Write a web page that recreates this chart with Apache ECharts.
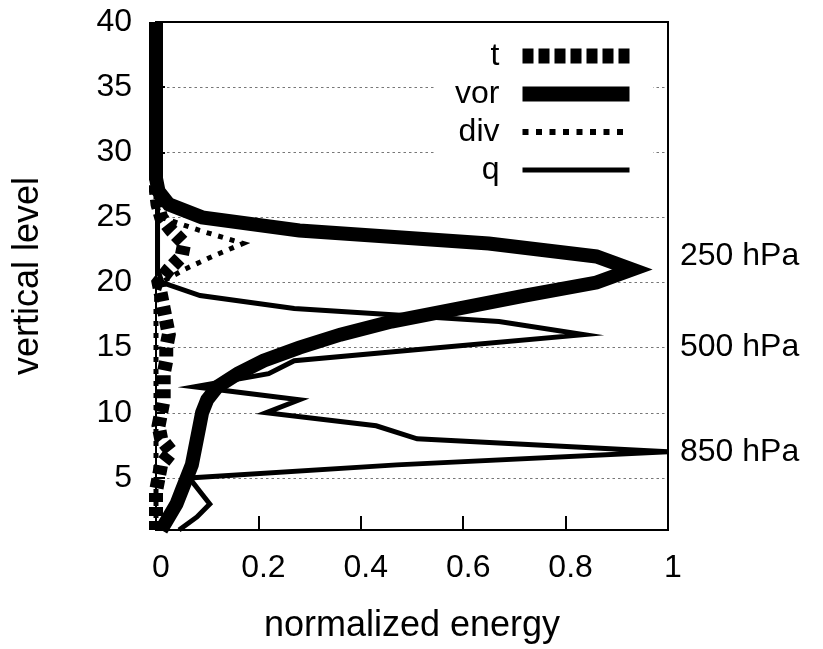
<!DOCTYPE html>
<html>
<head>
<meta charset="utf-8">
<script src="https://cdn.jsdelivr.net/npm/echarts@6/dist/echarts.min.js"></script>
<style>
  html, body { margin: 0; padding: 0; background: #fff; }
  #chart { width: 823px; height: 649px; }
</style>
</head>
<body>
<div id="chart"></div>
<script>
// vertical levels (bottom to top)
const levels = [1,2,3,4,5,6,7,8,9,10,11,12,13,14,15,16,17,18,19,20,21,22,23,24,25,26,27,28,29,30,31,32,33,34,35,36,37,38,39,40];

// normalized energy per level (level 1 .. 40)
const tValues   = [0.0,0.0,0.0,0.0,0.005,0.01,0.03,0.01,0.005,0.01,0.015,0.015,0.015,0.02,0.02,0.025,0.02,0.015,0.01,0.005,0.025,0.05,0.055,0.03,0.01,0.003,0,0,0,0,0,0,0,0,0,0,0,0,0,0];
const vorValues = [0.01,0.025,0.04,0.05,0.06,0.07,0.075,0.08,0.085,0.09,0.10,0.12,0.16,0.21,0.28,0.36,0.46,0.59,0.72,0.86,0.93,0.86,0.65,0.28,0.09,0.025,0.005,0,0,0,0,0,0,0,0,0,0,0,0,0];
const divValues = [0,0,0,0,0,0,0,0,0,0,0,0,0,0,0,0,0,0,0.002,0.01,0.055,0.11,0.17,0.085,0.01,0,0,0,0,0,0,0,0,0,0,0,0,0,0,0];
const qValues   = [0.045,0.08,0.105,0.085,0.065,0.47,1.0,0.51,0.43,0.215,0.28,0.075,0.22,0.27,0.55,0.835,0.67,0.27,0.086,0.012,0.003,0.003,0.003,0.003,0.003,0.003,0.003,0.003,0.003,0.003,0.003,0.003,0.003,0.003,0.003,0.003,0.003,0.003,0.003,0.003];

// tick labels
const xTicks = [0, 0.2, 0.4, 0.6, 0.8, 1];
const yLabelValues = [5,10,15,20,25,30,35,40];
const yTickValues = [5,10,15,20,25,30,35];
const pressureLevels = [7, 15, 22];
const pressureLabels = ['850 hPa', '500 hPa', '250 hPa'];

const FONT = 'Liberation Sans, Arial, Helvetica, sans-serif';

function toPairs(vals) { return levels.map((l, i) => [vals[i], l]); }

const chart = echarts.init(document.getElementById('chart'), null, { renderer: 'canvas' });

const option = {
  animation: false,
  backgroundColor: '#fff',
  textStyle: { fontFamily: FONT, color: '#000' },
  grid: { left: 156, right: 155, top: 22, bottom: 116, show: true, borderColor: '#000', borderWidth: 2, backgroundColor: 'transparent' },
  legend: {
    orient: 'vertical',
    align: 'right',
    right: 170,
    top: 34,
    itemWidth: 107,
    itemHeight: 15,
    itemGap: 6,
    padding: [6, 16, 6, 20],
    backgroundColor: '#fff',
    selectedMode: false,
    textStyle: { fontSize: 32, color: '#000', fontFamily: FONT, lineHeight: 32, padding: [0, 18, 0, 0] },
    itemStyle: { opacity: 0 },
    lineStyle: { width: 'inherit', type: 'inherit', cap: 'butt' },
    data: [
      { name: 't', lineStyle: { width: 15, type: [11, 5], cap: 'butt' } },
      { name: 'vor', lineStyle: { width: 15, type: 'solid', cap: 'butt' } },
      { name: 'div', lineStyle: { width: 6, type: [6, 7.5], cap: 'butt' } },
      { name: 'q', lineStyle: { width: 5, type: 'solid', cap: 'butt' } }
    ]
  },
  xAxis: {
    type: 'value',
    min: 0, max: 1, interval: 0.2,
    name: 'normalized energy',
    nameLocation: 'middle',
    nameGap: 78,
    nameTextStyle: { fontSize: 36, color: '#000', fontFamily: FONT },
    axisLine: { show: true, lineStyle: { color: '#000', width: 2 } },
    axisTick: { show: true, inside: true, length: 14, lineStyle: { color: '#000', width: 2 }, customValues: [0.2, 0.4, 0.6, 0.8] },
    axisLabel: { fontSize: 32, color: '#000', margin: 22, fontFamily: FONT, padding: [0, 0, 0, 10], customValues: xTicks, formatter: v => String(+v.toFixed(1)) },
    splitLine: { show: false }
  },
  yAxis: [
    {
      type: 'value',
      min: 1, max: 40,
      position: 'left',
      name: 'vertical level',
      nameLocation: 'middle',
      nameGap: 110,
      nameRotate: 90,
      nameTextStyle: { fontSize: 36, color: '#000', fontFamily: FONT },
      axisLine: { show: true, lineStyle: { color: '#000', width: 2 } },
      axisTick: { show: true, inside: true, length: 9, lineStyle: { color: '#000', width: 2 }, customValues: yTickValues },
      axisLabel: { fontSize: 32, color: '#000', margin: 24, fontFamily: FONT, customValues: yLabelValues },
      splitLine: { show: true, lineStyle: { color: '#777', width: 1, type: [2.5, 3] } }
    },
    {
      type: 'value',
      min: 1, max: 40,
      position: 'right',
      axisLine: { show: true, lineStyle: { color: '#000', width: 2 } },
      axisTick: { show: false },
      axisLabel: {
        fontSize: 32, color: '#000', margin: 12, fontFamily: FONT,
        customValues: pressureLevels,
        formatter: v => { const i = pressureLevels.indexOf(Math.round(v)); return i >= 0 ? pressureLabels[i] : ''; }
      },
      splitLine: { show: false }
    }
  ],
  series: [
    { name: 't', type: 'line', data: toPairs(tValues), symbol: 'none', clip: false, silent: true,
      lineStyle: { color: '#000', width: 14, type: [9, 5], cap: 'butt', join: 'miter' } },
    { name: 'vor', type: 'line', data: toPairs(vorValues), symbol: 'none', clip: false, silent: true,
      lineStyle: { color: '#000', width: 14, type: 'solid', cap: 'butt', join: 'miter', miterLimit: 10 } },
    { name: 'div', type: 'line', data: toPairs(divValues), symbol: 'none', clip: false, silent: true,
      lineStyle: { color: '#000', width: 5, type: [5, 7], cap: 'butt', join: 'miter' } },
    { name: 'q', type: 'line', data: toPairs(qValues), symbol: 'none', clip: false, silent: true,
      lineStyle: { color: '#000', width: 5, type: 'solid', cap: 'butt', join: 'miter', miterLimit: 10 } }
  ]
};

chart.setOption(option);
</script>
</body>
</html>
